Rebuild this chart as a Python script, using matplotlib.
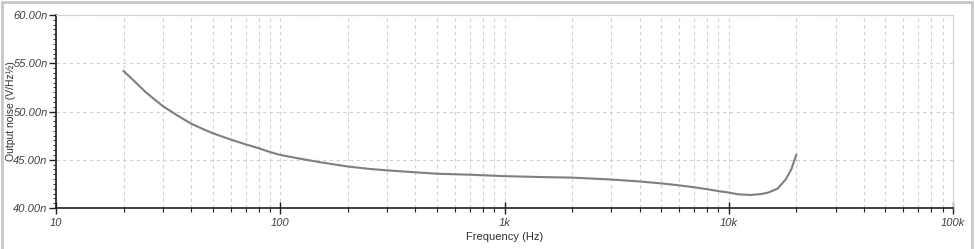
import matplotlib.pyplot as plt
from matplotlib.ticker import FixedLocator, MultipleLocator, FuncFormatter, LogLocator, NullFormatter
from matplotlib.patches import Rectangle

# ===== data =====
freq_hz = [20, 22, 25, 27, 30, 35, 40, 45, 50, 60, 70, 80, 90, 100, 120, 150, 200,
           250, 300, 400, 500, 700, 1000, 1500, 2000, 3000, 4000, 5000, 6000, 7000,
           8000, 9000, 10000, 11000, 12500, 14000, 15000, 16500, 18000, 19000, 20000]
noise_nv = [54.2, 53.3, 52.05, 51.4, 50.55, 49.55, 48.75, 48.2, 47.75, 47.1, 46.6,
            46.2, 45.8, 45.5, 45.15, 44.75, 44.3, 44.05, 43.9, 43.7, 43.55, 43.45,
            43.3, 43.2, 43.15, 42.95, 42.75, 42.55, 42.35, 42.15, 41.95, 41.75,
            41.6, 41.42, 41.35, 41.45, 41.6, 42.0, 43.0, 44.0, 45.5]
x_ticks = [10, 100, 1000, 10000, 100000]
x_labels = ['10', '100', '1k', '10k', '100k']
y_ticks = [40, 45, 50, 55, 60]

plt.rcParams['font.family'] = ['Liberation Sans', 'DejaVu Sans']

fig = plt.figure(figsize=(9.75, 2.49), dpi=100)
fig.patch.set_facecolor('white')
border = Rectangle((2 / 975, -0.01), 970 / 975, 1.0, transform=fig.transFigure,
                   fill=False, edgecolor='#c8c8c8', linewidth=2, zorder=-1)
fig.patches.append(border)

ax = fig.add_axes([56 / 975, 41 / 249, 897 / 975, 193 / 249])
ax.plot(freq_hz, noise_nv, color='#7f7f7f', linewidth=1.5)

ax.set_xscale('log')
ax.set_xlim(10, 100000)
ax.set_ylim(40, 60)

ax.xaxis.set_major_locator(FixedLocator(x_ticks))
ax.xaxis.set_major_formatter(FuncFormatter(lambda v, p: x_labels[x_ticks.index(round(v))] if round(v) in x_ticks else ''))
ax.xaxis.set_minor_locator(LogLocator(base=10, subs=range(2, 10)))
ax.xaxis.set_minor_formatter(NullFormatter())

ax.yaxis.set_major_locator(FixedLocator(y_ticks))
ax.yaxis.set_major_formatter(FuncFormatter(lambda v, p: '%.2fn' % v))
ax.yaxis.set_minor_locator(MultipleLocator(0.5))

ax.grid(which='major', color='#d0d0d0', linestyle=(0, (3, 3)), linewidth=0.8)
ax.grid(which='minor', axis='x', color='#d0d0d0', linestyle=(0, (3, 3)), linewidth=0.8)
ax.set_axisbelow(True)

for side in ['top', 'right']:
    ax.spines[side].set_color('#d0d0d0')
for side in ['left', 'bottom']:
    ax.spines[side].set_color('#202020')
    ax.spines[side].set_linewidth(1.2)

ax.tick_params(axis='x', which='major', direction='inout', length=8, width=1, colors='#202020', pad=3)
ax.tick_params(axis='x', which='minor', direction='out', length=3, width=0.8, colors='#202020')
ax.tick_params(axis='y', which='major', direction='out', length=5, width=1, colors='#202020', pad=1)
ax.tick_params(axis='y', which='minor', direction='out', length=2, width=0.6, colors='#202020')
for lab in ax.get_xticklabels() + ax.get_yticklabels():
    lab.set_fontstyle('italic')
    lab.set_fontsize(8)
    lab.set_color('#404040')

ax.set_xlabel('Frequency (Hz)', fontsize=8, color='#303030', labelpad=3)
ax.set_ylabel('Output noise (V/Hz½)', fontsize=7.5, color='#303030')
ax.yaxis.set_label_coords(-40 / 897, 0.5)

fig.savefig('out.png', dpi=100)
